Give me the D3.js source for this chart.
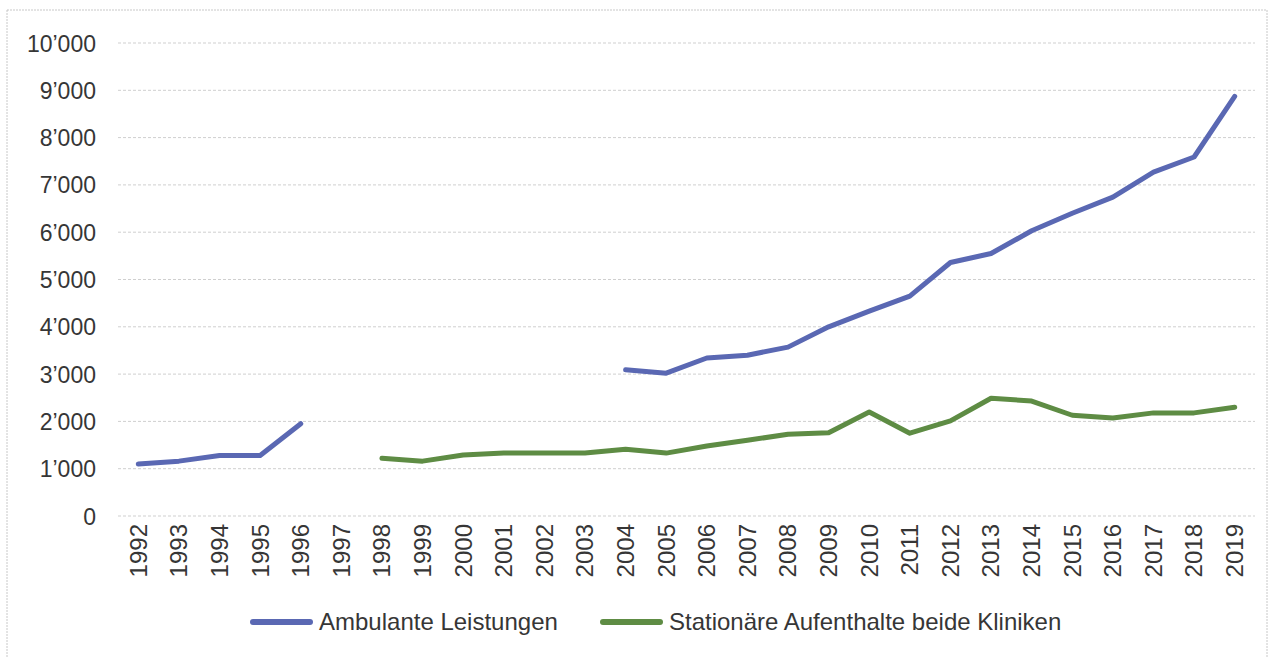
<!DOCTYPE html>
<html>
<meta charset="utf-8" />
<script src="https://d3js.org/d3.v7.min.js"></script>
<style>
  body { margin: 0; background: #fff; }
  svg text { font-family: "Liberation Sans", Arial, sans-serif; fill: #363636; }
</style>
<body>
<div id="chart"></div>
<script>
// data
var years = d3.range(1992, 2020);
var ambulant = [1100, 1160, 1280, 1280, 1950, null, null, null, null, null, null, null,
  3090, 3020, 3340, 3400, 3570, 4000, 4330, 4650, 5360, 5550, 6030, 6400, 6740, 7270, 7590, 8870];
var stationaer = [null, null, null, null, null, null, 1220, 1160, 1290, 1330, 1330, 1330,
  1410, 1330, 1480, 1600, 1730, 1760, 2200, 1750, 2010, 2490, 2430, 2130, 2070, 2180, 2180, 2300];
var yTicks = [0, 1000, 2000, 3000, 4000, 5000, 6000, 7000, 8000, 9000, 10000];
var seriesNames = ["Ambulante Leistungen", "Stationäre Aufenthalte beide Kliniken"];
var colors = ["#5a68b3", "#5e8c44"];

var W = 1272, H = 657;
var margin = {top: 43, left: 118, right: 17, bottom: 141};

var svg = d3.select("#chart").append("svg")
  .attr("width", W).attr("height", H);

// scan frame
svg.append("rect")
  .attr("x", 7).attr("y", 10).attr("width", W - 12).attr("height", H - 8)
  .attr("fill", "none").attr("stroke", "#c8c8c8").attr("stroke-dasharray", "2,1");

var x = d3.scaleBand().domain(years).range([margin.left, W - margin.right]).padding(0);
var y = d3.scaleLinear().domain([0, 10000]).range([H - margin.bottom, margin.top]);
var cx = function(yr) { return x(yr) + x.bandwidth() / 2; };

// grid
svg.append("g").selectAll("line")
  .data(yTicks).enter().append("line")
  .attr("x1", margin.left).attr("x2", W - margin.right)
  .attr("y1", function(d) { return y(d); }).attr("y2", function(d) { return y(d); })
  .attr("stroke", "#cfcfcf").attr("stroke-width", 1).attr("stroke-dasharray", "3,2");

// y axis labels
var fmt = function(d) { return d3.format(",")(d).replace(/,/g, "\u2019"); };
var yAxis = svg.append("g")
  .attr("transform", "translate(" + (margin.left - 22) + ",0)")
  .call(d3.axisLeft(y).tickValues(yTicks).tickFormat(fmt).tickSize(0).tickPadding(0));
yAxis.select(".domain").remove();
yAxis.selectAll("text").attr("font-size", 23).attr("dy", "0.35em")
  .style("font-family", "'Liberation Sans', Arial, sans-serif").attr("fill", "#363636");

// x axis labels, rotated
var xAxis = svg.append("g")
  .attr("transform", "translate(0," + (H - margin.bottom) + ")")
  .call(d3.axisBottom(x).tickSize(0).tickPadding(0));
xAxis.select(".domain").remove();
xAxis.selectAll("text")
  .attr("font-size", 24)
  .style("font-family", "'Liberation Sans', Arial, sans-serif").attr("fill", "#363636")
  .attr("text-anchor", "end")
  .attr("transform", "rotate(-90)")
  .attr("x", -8).attr("y", 0).attr("dy", "0.35em");

// lines
var line = d3.line()
  .defined(function(d) { return d.v != null; })
  .x(function(d) { return cx(d.year); })
  .y(function(d) { return y(d.v); });

[ambulant, stationaer].forEach(function(vals, i) {
  var pts = years.map(function(yr, j) { return {year: yr, v: vals[j]}; });
  svg.append("path")
    .datum(pts)
    .attr("fill", "none")
    .attr("stroke", colors[i])
    .attr("stroke-width", 5)
    .attr("stroke-linecap", "round")
    .attr("stroke-linejoin", "round")
    .attr("d", line);
});

// legend
var legX = [253, 603];
var legend = svg.append("g").selectAll("g")
  .data(seriesNames).enter().append("g")
  .attr("transform", function(d, i) { return "translate(" + legX[i] + ",622)"; });
legend.append("line")
  .attr("x1", 0).attr("x2", 57).attr("y1", 0).attr("y2", 0)
  .attr("stroke", function(d, i) { return colors[i]; })
  .attr("stroke-width", 6).attr("stroke-linecap", "round");
legend.append("text")
  .attr("x", 66).attr("y", 0).attr("dy", "0.35em")
  .attr("font-size", 24)
  .text(function(d) { return d; });
</script>
</body>
</html>
